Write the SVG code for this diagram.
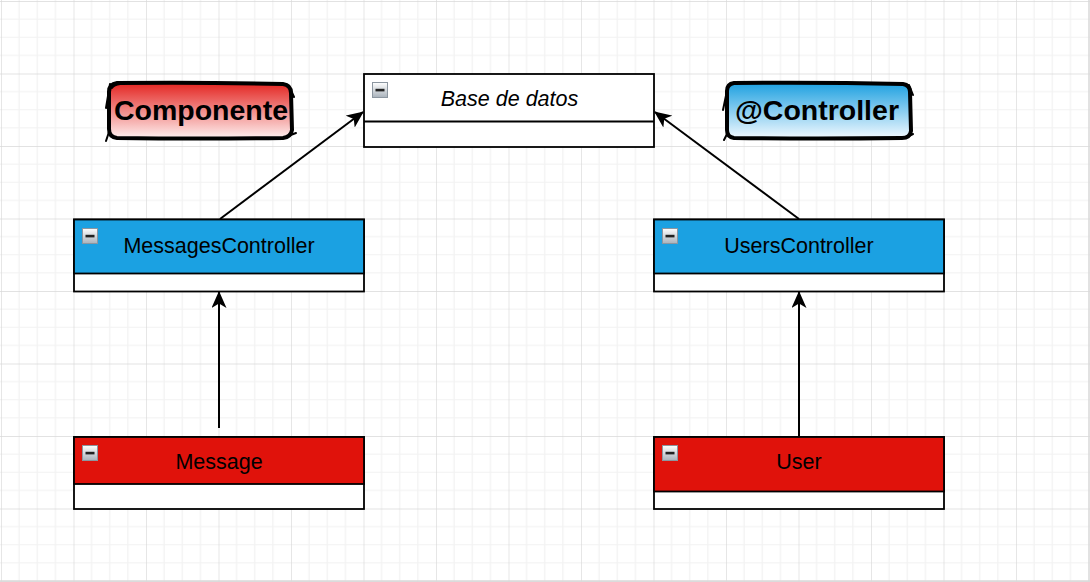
<svg xmlns="http://www.w3.org/2000/svg" width="1090" height="582" viewBox="0 0 1090 582">
<style>
.lbl{font-family:"Liberation Sans",Arial,sans-serif;font-size:21.5px;fill:#000;text-anchor:middle}
.it{font-style:italic}
.big{font-family:"Liberation Sans",Arial,sans-serif;font-size:28.5px;font-weight:bold;fill:#000;text-anchor:middle}
.box{stroke:#000;stroke-width:1.8}
.conn{stroke:#000;stroke-width:2;fill:none}
.sk{fill:none;stroke:#000;stroke-linejoin:round;stroke-linecap:round}
</style>
<defs>
<pattern id="grid" patternUnits="userSpaceOnUse" x="1" y="1" width="72.5" height="72.5">
<rect width="72.5" height="72.5" fill="#fff"/>
<path d="M18.125 0V72.5M36.25 0V72.5M54.375 0V72.5M0 18.125H72.5M0 36.25H72.5M0 54.375H72.5" stroke="#f2f2f2" stroke-width="1.2"/>
<path d="M0 0V72.5M0 0H72.5" stroke="#d9d9d9" stroke-width="1.3"/>
</pattern>
<linearGradient id="gRed" x1="0" y1="0" x2="0" y2="1">
<stop offset="0" stop-color="#e3221e"/>
<stop offset="1" stop-color="#fff2f2"/>
</linearGradient>
<linearGradient id="gBlue" x1="0" y1="0" x2="0" y2="1">
<stop offset="0" stop-color="#1a9fe0"/>
<stop offset="1" stop-color="#f4faff"/>
</linearGradient>
<linearGradient id="gIcon" x1="0" y1="0" x2="0" y2="1">
<stop offset="0" stop-color="#ffffff"/>
<stop offset="1" stop-color="#a9b2bb"/>
</linearGradient>
<g id="icon">
<rect x="0.5" y="0.5" width="15" height="15" fill="url(#gIcon)" stroke="#8c96a0" stroke-width="1"/>
<rect x="3.5" y="6.8" width="9" height="2.6" fill="#222"/>
</g>
<marker id="arr" viewBox="0 0 17 15" refX="16" refY="7.5" markerWidth="17" markerHeight="15" markerUnits="userSpaceOnUse" orient="auto">
<path d="M0 0L17 7.5L0 15L4.5 7.5Z" fill="#000"/>
</marker>
</defs>
<rect width="1090" height="582" fill="url(#grid)"/>
<path d="M1089 0V582M0 581H1090" stroke="#d9d9d9" stroke-width="1.3"/>

<g id="connectors">
<line class="conn" x1="220" y1="219" x2="363" y2="112" marker-end="url(#arr)"/>
<line class="conn" x1="799" y1="219" x2="655" y2="112" marker-end="url(#arr)"/>
<line class="conn" x1="219" y1="428" x2="219" y2="292" marker-end="url(#arr)"/>
<line class="conn" x1="799" y1="437" x2="799" y2="292" marker-end="url(#arr)"/>
</g>

<g id="componente">
<path d="M116 84Q200 81 284 83Q292 84 292 92L292 130Q292 138 284 138Q200 140 116 138Q108 137 108 130L108 92Q108 85 116 84Z" fill="url(#gRed)"/>
<path class="sk" stroke-width="4" d="M117 83Q200 82 283 84Q291 85 291 93L292 130Q291 137 283 138Q200 139 117 138Q109 137 109 129L109 92Q109 84 117 83Z"/>
<path class="sk" stroke-width="2" d="M112 88Q114 85 120 84M290 88L294 97M288 136L296 133M109 132L106 141M110 84L106 108"/>
<text class="big" x="201" y="120">Componente</text>
</g>

<g id="controller">
<path d="M733 83Q818 81 903 83Q911 84 911 92L911 131Q911 138 903 138Q818 140 733 138Q726 137 726 130L726 91Q726 84 733 83Z" fill="url(#gBlue)"/>
<path class="sk" stroke-width="4" d="M734 83Q818 82 903 84Q910 85 910 92L911 131Q910 138 902 138Q818 139 734 138Q727 137 727 130L727 91Q727 84 734 83Z"/>
<path class="sk" stroke-width="2" d="M727 87Q729 84 736 82M909 85L913 95M905 138L913 134M727 134L724 140M728 86L723 110"/>
<text class="big" x="817" y="120">@Controller</text>
</g>

<g id="base-de-datos">
<rect class="box" x="364" y="74" width="290" height="73" fill="#fff"/>
<line class="box" x1="364" y1="121.5" x2="654" y2="121.5"/>
<use href="#icon" x="372" y="82"/>
<text class="lbl it" x="509.5" y="106">Base de datos</text>
</g>

<g id="messages-controller">
<rect class="box" x="74" y="219.5" width="290" height="72" fill="#fff"/>
<rect class="box" x="74" y="219.5" width="290" height="54" fill="#1ba1e2"/>
<use href="#icon" x="82" y="228"/>
<text class="lbl" x="219" y="252.5">MessagesController</text>
</g>

<g id="users-controller">
<rect class="box" x="654" y="219.5" width="290" height="72" fill="#fff"/>
<rect class="box" x="654" y="219.5" width="290" height="54" fill="#1ba1e2"/>
<use href="#icon" x="662" y="228"/>
<text class="lbl" x="799" y="252.5">UsersController</text>
</g>

<g id="message">
<rect class="box" x="74" y="437" width="290" height="72" fill="#fff"/>
<rect class="box" x="74" y="437" width="290" height="47" fill="#e0120b"/>
<use href="#icon" x="82" y="445"/>
<text class="lbl" x="219" y="468.5">Message</text>
</g>

<g id="user">
<rect class="box" x="654" y="437" width="290" height="72" fill="#fff"/>
<rect class="box" x="654" y="437" width="290" height="54.5" fill="#e0120b"/>
<use href="#icon" x="662" y="445"/>
<text class="lbl" x="799" y="468.5">User</text>
</g>
</svg>
